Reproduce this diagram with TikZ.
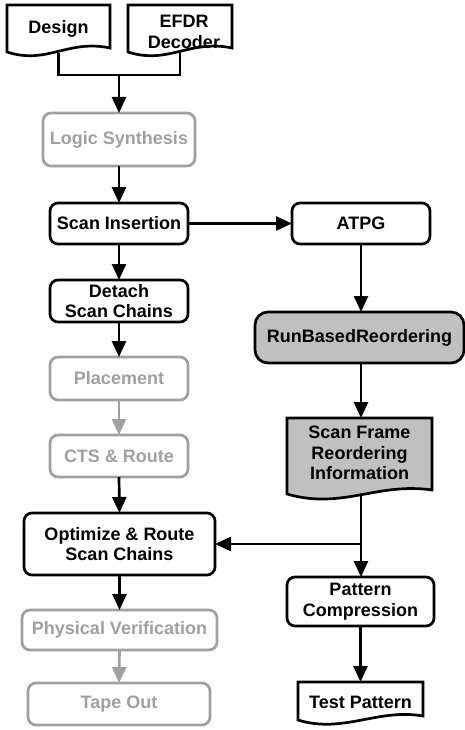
\documentclass[tikz,border=0pt]{standalone}
\usepackage{fontspec}
\setmainfont{Liberation Sans}
\usetikzlibrary{arrows.meta,calc}
\definecolor{lgray}{HTML}{A0A0A0}
\definecolor{fgray}{HTML}{C0C0C0}
\begin{document}
\begin{tikzpicture}[x=1pt,y=-1pt,
  txt/.style={font=\fontsize{18}{20.5}\selectfont\bfseries, align=center, inner sep=0pt, outer sep=0pt},
  blk/.style={txt, draw=black, line width=2.7pt, rounded corners=8pt},
  gry/.style={txt, draw=lgray, text=lgray, line width=2.7pt, rounded corners=8pt},
  doc/.style={txt},
  docshape/.style={draw=black, line width=2.7pt, line join=miter},
  conn/.style={line width=2.7pt, -{Triangle[length=16pt,width=14pt]}},
  gconn/.style={conn, draw=lgray, -{Triangle[length=16pt,width=14pt,fill=lgray]}},
  plain/.style={line width=2.7pt}
]
\useasboundingbox (0,0) rectangle (465,730);

% documents (text nodes sized to the shape)
\node[doc, minimum width=103pt, minimum height=48pt] (design) at (58.5,29) {Design};
\node[doc, minimum width=104pt, minimum height=48pt] (efdr) at (180,29) {};
\draw[docshape] (design.south west) -- (design.north west) -- (design.north east) -- ($(design.south east)+(0,-5)$)
  .. controls ($(design.south east)+(-42,-14)$) and ($(design.south west)+(40,12)$) .. ($(design.south west)+(0,-1)$) -- cycle;
\draw[docshape] (efdr.south west) -- (efdr.north west) -- (efdr.north east) -- ($(efdr.south east)+(0,-5)$)
  .. controls ($(efdr.south east)+(-42,-14)$) and ($(efdr.south west)+(40,12)$) .. ($(efdr.south west)+(0,-1)$) -- cycle;
\node[doc] at ($(efdr)+(4,3)$) {EFDR\\Decoder};

% left column
\node[gry, minimum width=152pt, minimum height=53pt] (logic) at (119,139.5) {Logic Synthesis};
\node[blk, minimum width=138pt, minimum height=41pt] (scan) at (119,223.5) {Scan Insertion};
\node[blk, minimum width=138pt, minimum height=42pt] (detach) at (119,301) {Detach\\Scan Chains};
\node[gry, minimum width=138pt, minimum height=43pt] (place) at (119,378.5) {Placement};
\node[gry, minimum width=138pt, minimum height=42pt] (cts) at (119,456) {CTS \& Route};
\node[blk, minimum width=191pt, minimum height=62pt] (opt) at (119.5,544) {Optimize \& Route\\Scan Chains};
\node[gry, minimum width=195pt, minimum height=40pt] (pv) at (119.5,630) {Physical Verification};
\node[gry, minimum width=182pt, minimum height=42pt] (tape) at (119,704) {Tape Out};

% right column
\node[blk, minimum width=138pt, minimum height=41pt] (atpg) at (361,223.5) {ATPG};
\node[txt, draw=black, fill=fgray, line width=2.7pt, rounded corners=13pt, minimum width=209pt, minimum height=51pt] (rbr) at (359.5,337.5) {RunBasedReordering};
\node[doc, minimum width=145pt, minimum height=78pt] (sfri) at (359.5,457) {};
\draw[docshape, fill=fgray] ($(sfri.south west)+(0,-2)$) -- (sfri.north west) -- (sfri.north east) -- ($(sfri.south east)+(0,-6)$)
  .. controls ($(sfri.south east)+(-55,-14)$) and ($(sfri.south west)+(55,14)$) .. ($(sfri.south west)+(0,-2)$) -- cycle;
\node[doc] at ($(sfri)+(0,-4)$) {Scan Frame\\Reordering\\Information};
\node[blk, minimum width=147pt, minimum height=49pt] (pc) at (360.5,601.5) {Pattern\\Compression};
\node[doc, minimum width=125pt, minimum height=40pt] (tp) at (360.5,702) {Test Pattern};
\draw[docshape] ($(tp.south west)+(0,-2)$) -- (tp.north west) -- (tp.north east) -- ($(tp.south east)+(0,-6)$)
  .. controls ($(tp.south east)+(-45,-14)$) and ($(tp.south west)+(45,12)$) .. ($(tp.south west)+(0,-2)$) -- cycle;

% connectors
\coordinate (j1) at (119,75);
\coordinate (j2) at (361,544);
\draw[plain] (design.south) |- (j1) -| ($(efdr.south)+(0,-2)$);
\draw[conn] (j1) -- (logic.north);
\draw[conn] (logic.south) -- (scan.north);
\draw[conn] (scan.east) -- (atpg.west);
\draw[conn] (scan.south) -- (detach.north);
\draw[conn] (detach.south) -- (place.north);
\draw[gconn] (place.south) -- (cts.north);
\draw[conn] (cts.south) -- (opt.north);
\draw[conn] (opt.south) -- (pv.north);
\draw[gconn] (pv.south) -- (tape.north);
\draw[conn] (atpg.south) -- (rbr.north -| atpg.south);
\draw[conn] (rbr.south -| atpg.south) -- (sfri.north -| atpg.south);
\draw[plain] ($(sfri.south)+(1.5,-1)$) -- (j2);
\draw[conn] (j2) -- (opt.east);
\draw[conn] (j2) -- (pc.north -| j2);
\draw[conn] (pc.south) -- (tp.north);
\end{tikzpicture}
\end{document}
